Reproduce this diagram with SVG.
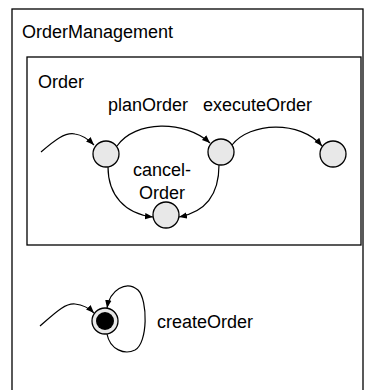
<svg xmlns="http://www.w3.org/2000/svg" width="375" height="390" viewBox="0 0 375 390">
<style>
text{font-family:"Liberation Sans",Arial,sans-serif;font-size:18px;fill:#000}
.box{fill:#fff;stroke:#000;stroke-width:1.3}
.st{fill:#e8e8e8;stroke:#000;stroke-width:1.3}
.edge{fill:none;stroke:#000;stroke-width:1.2;marker-end:url(#ah)}
</style>
<defs>
<marker id="ah" viewBox="0 0 10 10" refX="10" refY="5" markerWidth="8" markerHeight="8" markerUnits="userSpaceOnUse" orient="auto">
<path d="M0,1 L10,5 L0,9 z" fill="#000"/>
</marker>
</defs>
<g id="OrderManagement">
<rect class="box" x="12" y="9" width="351" height="395"/>
<text x="22" y="38">OrderManagement</text>
</g>
<g id="Order">
<rect class="box" x="27" y="57" width="334" height="188"/>
<text x="38" y="88">Order</text>
</g>
<g id="s1"><circle class="st" cx="106" cy="154" r="13"/></g>
<g id="s2"><circle class="st" cx="221" cy="152" r="13"/></g>
<g id="s3"><circle class="st" cx="333" cy="154" r="13"/></g>
<g id="s4"><circle class="st" cx="166" cy="215" r="13"/></g>
<g id="final">
<circle class="st" cx="105" cy="321" r="13"/>
<circle cx="105" cy="321" r="9" fill="#000"/>
</g>
<g id="connectors">
<path class="edge" d="M41,152 C55,140 65,132 75,134 C83,135 88,139 94,145"/>
<path class="edge" d="M117,146 C135,120 185,120 210,143"/>
<path class="edge" d="M232,145 C250,122 300,120 322,146"/>
<path class="edge" d="M108,167 C108,195 125,214 153,217"/>
<path class="edge" d="M219,165 C219,195 205,212 179,217"/>
<path class="edge" d="M40,326 C55,313 65,303 75,304 C84,305 89,308 94,313"/>
<path class="edge" d="M107,334 C110,350 125,355 135,350 C148,343 148,300 138,290 C126,280 110,290 107,308"/>
</g>
<g id="labels">
<text x="108" y="111">planOrder</text>
<text x="203" y="111">executeOrder</text>
<text x="162" y="176" text-anchor="middle">cancel-</text>
<text x="162" y="199" text-anchor="middle">Order</text>
<text x="157" y="328">createOrder</text>
</g>
</svg>
